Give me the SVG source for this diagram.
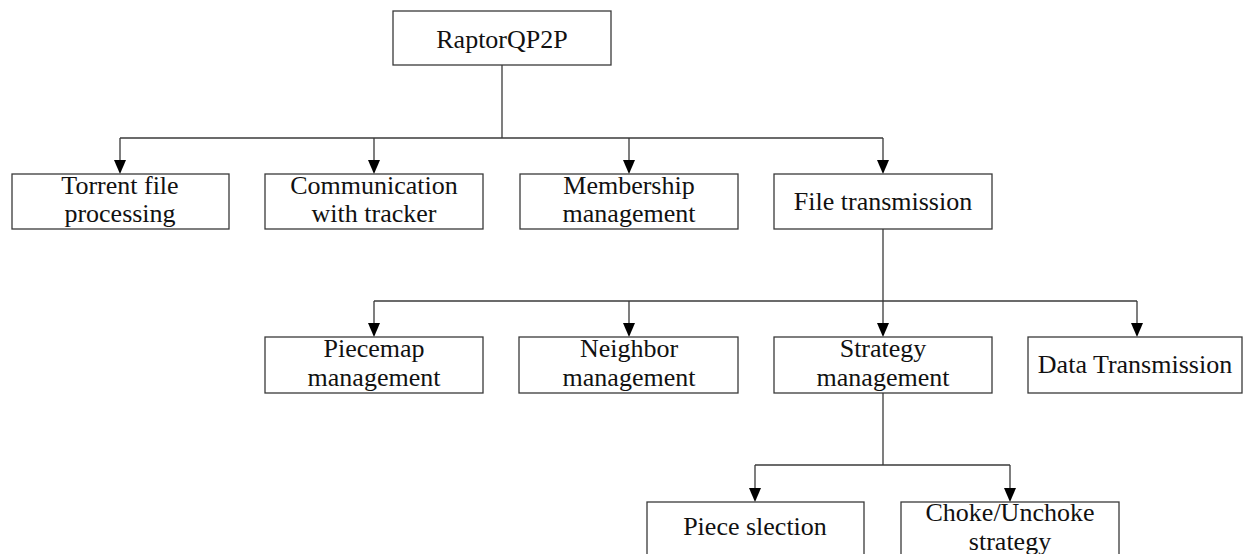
<svg xmlns="http://www.w3.org/2000/svg" width="1243" height="554" viewBox="0 0 1243 554">
<style>
  .box { fill: #ffffff; stroke: #3a3a3a; stroke-width: 1.3; }
  .lbl { font-family: "Liberation Serif", "Times New Roman", serif; font-size: 26px; fill: #111; text-anchor: middle; }
  .conn { fill: none; stroke: #3a3a3a; stroke-width: 1.3; }
  .head { fill: #000; }
</style>
<rect width="1243" height="554" fill="#ffffff"/>
<g id="connectors">
  <path class="conn" d="M502,65 V138"/>
  <path class="conn" d="M120,138 H883"/>
  <path class="conn" d="M120,138 V160"/>
  <path class="conn" d="M374,138 V160"/>
  <path class="conn" d="M629,138 V160"/>
  <path class="conn" d="M883,138 V160"/>
  <path class="head" d="M114,160 L126,160 L120,174 Z"/>
  <path class="head" d="M368,160 L380,160 L374,174 Z"/>
  <path class="head" d="M623,160 L635,160 L629,174 Z"/>
  <path class="head" d="M877,160 L889,160 L883,174 Z"/>
  <path class="conn" d="M883,229 V323"/>
  <path class="conn" d="M374,301 H1137"/>
  <path class="conn" d="M374,301 V323"/>
  <path class="conn" d="M629,301 V323"/>
  <path class="conn" d="M1137,301 V323"/>
  <path class="head" d="M368,323 L380,323 L374,337 Z"/>
  <path class="head" d="M623,323 L635,323 L629,337 Z"/>
  <path class="head" d="M877,323 L889,323 L883,337 Z"/>
  <path class="head" d="M1131,323 L1143,323 L1137,337 Z"/>
  <path class="conn" d="M883,393 V465"/>
  <path class="conn" d="M755,465 H1010"/>
  <path class="conn" d="M755,465 V488"/>
  <path class="conn" d="M1010,465 V488"/>
  <path class="head" d="M749,488 L761,488 L755,502 Z"/>
  <path class="head" d="M1004,488 L1016,488 L1010,502 Z"/>
</g>
<g id="root">
  <rect class="box" x="393" y="11" width="218" height="54"/>
  <text class="lbl" x="502" y="48">RaptorQP2P</text>
</g>
<g id="torrent">
  <rect class="box" x="12" y="174" width="217" height="55"/>
  <text class="lbl" x="120" y="194">Torrent file</text>
  <text class="lbl" x="120" y="222">processing</text>
</g>
<g id="tracker">
  <rect class="box" x="265" y="174" width="218" height="55"/>
  <text class="lbl" x="374" y="194">Communication</text>
  <text class="lbl" x="374" y="222">with tracker</text>
</g>
<g id="membership">
  <rect class="box" x="520" y="174" width="218" height="55"/>
  <text class="lbl" x="629" y="194">Membership</text>
  <text class="lbl" x="629" y="222">management</text>
</g>
<g id="filetx">
  <rect class="box" x="774" y="174" width="218" height="55"/>
  <text class="lbl" x="883" y="210">File transmission</text>
</g>
<g id="piecemap">
  <rect class="box" x="265" y="337" width="218" height="56"/>
  <text class="lbl" x="374" y="357">Piecemap</text>
  <text class="lbl" x="374" y="386">management</text>
</g>
<g id="neighbor">
  <rect class="box" x="519" y="337" width="219" height="56"/>
  <text class="lbl" x="629" y="357">Neighbor</text>
  <text class="lbl" x="629" y="386">management</text>
</g>
<g id="strategy">
  <rect class="box" x="774" y="337" width="218" height="56"/>
  <text class="lbl" x="883" y="357">Strategy</text>
  <text class="lbl" x="883" y="386">management</text>
</g>
<g id="datatx">
  <rect class="box" x="1028" y="337" width="214" height="56"/>
  <text class="lbl" x="1135" y="373">Data Transmission</text>
</g>
<g id="piecesel">
  <rect class="box" x="647" y="502" width="217" height="60"/>
  <text class="lbl" x="755" y="535">Piece slection</text>
</g>
<g id="choke">
  <rect class="box" x="901" y="502" width="218" height="60"/>
  <text class="lbl" x="1010" y="521">Choke/Unchoke</text>
  <text class="lbl" x="1010" y="550">strategy</text>
</g>
</svg>
